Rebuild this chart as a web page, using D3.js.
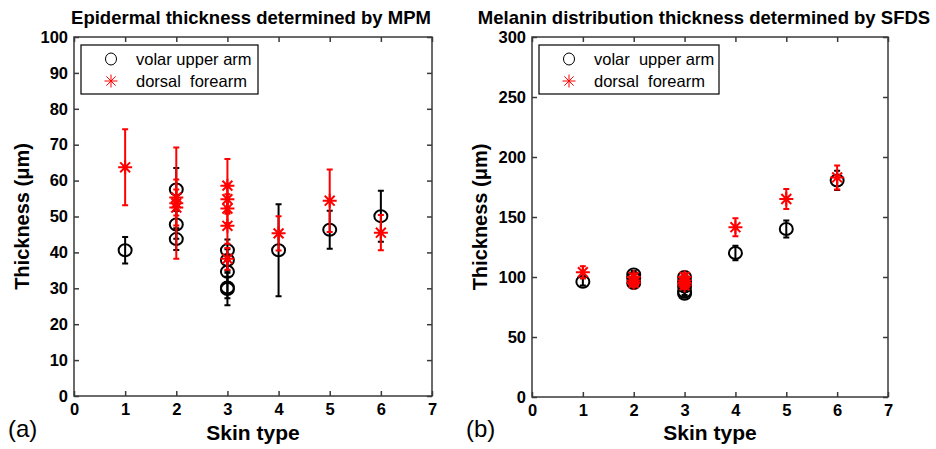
<!DOCTYPE html>
<html>
<head>
<meta charset="utf-8">
<script src="https://cdn.jsdelivr.net/npm/d3@7"></script>
<style>
  body { margin: 0; background: #fff; }
  text { font-family: "Liberation Sans", Arial, sans-serif; }
</style>
</head>
<body>
<div class="chart"></div>
<script>
// panel (a): epidermal thickness by MPM
const mpmVolarX = [1, 2, 2, 2, 3, 3, 3, 3, 3, 4, 5, 6];
const mpmVolarY = [40.6, 57.5, 47.8, 43.7, 40.6, 37.9, 34.6, 29.8, 30.2, 40.6, 46.3, 50.1];
const mpmVolarErr = [3.7, 6, 4, 3, 3, 3, 3, 4.5, 3, 12.8, 5.3, 7.1];
const mpmDorsalX = [1, 2, 2, 2, 3, 3, 3, 3, 3, 4, 5, 6];
const mpmDorsalY = [63.7, 55.3, 53.7, 52.5, 58.6, 54.8, 52.2, 47.4, 38.2, 45.3, 54.4, 45.5];
const mpmDorsalErr = [10.6, 5, 15.5, 5, 7.4, 4, 4, 5, 3, 4.8, 8.7, 4.9];

// panel (b): melanin distribution thickness by SFDS
const sfdsVolarX = [1, 2, 2, 2, 3, 3, 3, 3, 3, 4, 5, 6];
const sfdsVolarY = [96, 102, 99, 95, 100, 96, 92, 88, 86, 120, 140, 180.5];
const sfdsVolarErr = [3, 3, 3, 3, 3, 3, 3, 3, 3, 6, 7, 8];
const sfdsDorsalX = [1, 2, 2, 2, 3, 3, 3, 3, 4, 5, 6];
const sfdsDorsalY = [104, 100, 97, 95, 100, 97, 95, 93, 141.5, 165, 183];
const sfdsDorsalErr = [5, 3, 3, 3, 3, 3, 3, 3, 7.5, 8.3, 10];

const xTicks = [0, 1, 2, 3, 4, 5, 6, 7];
const mpmYTicks = d3.range(0, 101, 10);
const sfdsYTicks = d3.range(0, 301, 50);
const seriesNames = ['volar upper arm', 'dorsal  forearm'];
const seriesNamesB = ['volar  upper arm', 'dorsal  forearm'];

const W = 936, H = 449;
const svg = d3.select('.chart').append('svg')
  .attr('width', W).attr('height', H);

const zip = (xs, ys, es) => xs.map((x, i) => ({x: x, y: ys[i], e: es[i]}));

function starPath(r) {
  let p = '';
  for (let k = 0; k < 4; k++) {
    const a = k * Math.PI / 4;
    const dx = r * Math.cos(a), dy = r * Math.sin(a);
    p += `M${-dx},${-dy}L${dx},${dy}`;
  }
  return p;
}

function drawPanel(opt) {
  const g = svg.append('g');
  const x = d3.scaleLinear().domain([0, 7]).range([opt.left, opt.right]);
  const y = d3.scaleLinear().domain([0, opt.yMax]).range([opt.bottom, opt.top]);
  const axisColor = '#3a3a3a';

  // ticks inward on all sides (matlab box style)
  g.append('g').attr('transform', `translate(0,${opt.bottom})`)
    .call(d3.axisBottom(x).tickValues(xTicks).tickFormat(d3.format('d'))
      .tickSizeInner(-5).tickSizeOuter(0).tickPadding(7))
    .call(s => s.select('.domain').remove());
  g.append('g').attr('transform', `translate(0,${opt.top})`)
    .call(d3.axisTop(x).tickValues(xTicks).tickSizeInner(-5).tickSizeOuter(0).tickFormat(''))
    .call(s => s.select('.domain').remove());
  g.append('g').attr('transform', `translate(${opt.left},0)`)
    .call(d3.axisLeft(y).tickValues(opt.yTicks).tickFormat(d3.format('d'))
      .tickSizeInner(-5).tickSizeOuter(0).tickPadding(6))
    .call(s => s.select('.domain').remove());
  g.append('g').attr('transform', `translate(${opt.right},0)`)
    .call(d3.axisRight(y).tickValues(opt.yTicks).tickSizeInner(-5).tickSizeOuter(0).tickFormat(''))
    .call(s => s.select('.domain').remove());
  g.selectAll('.tick line').attr('stroke', axisColor).attr('stroke-width', 1.5);
  g.selectAll('.tick text')
    .attr('font-family', '"Liberation Sans", Arial, sans-serif')
    .attr('font-size', 16.5).attr('font-weight', 'bold').attr('fill', '#000');

  g.append('rect')
    .attr('x', opt.left).attr('y', opt.top)
    .attr('width', opt.right - opt.left).attr('height', opt.bottom - opt.top)
    .attr('fill', 'none').attr('stroke', axisColor).attr('stroke-width', 1.5);

  // error bars + markers
  function series(data, color, marker) {
    const s = g.append('g');
    s.selectAll('.eb').data(data).enter().append('path')
      .attr('d', d => {
        const cx = x(d.x), y0 = y(d.y - d.e), y1 = y(d.y + d.e);
        return `M${cx},${y0}L${cx},${y1}M${cx - 3},${y0}L${cx + 3},${y0}M${cx - 3},${y1}L${cx + 3},${y1}`;
      })
      .attr('stroke', color).attr('stroke-width', 2).attr('fill', 'none');
    if (marker === 'circle') {
      s.selectAll('.mk').data(data).enter().append('ellipse')
        .attr('cx', d => x(d.x)).attr('cy', d => y(d.y))
        .attr('rx', 6.5).attr('ry', 6)
        .attr('fill', 'none').attr('stroke', color).attr('stroke-width', 2);
    } else {
      s.selectAll('.mk').data(data).enter().append('path')
        .attr('transform', d => `translate(${x(d.x)},${y(d.y)})`)
        .attr('d', starPath(7))
        .attr('stroke', color).attr('stroke-width', 2).attr('fill', 'none');
    }
  }
  series(opt.volar, '#000', 'circle');
  series(opt.dorsal, '#ff0000', 'star');

  // legend
  const lg = g.append('g');
  lg.append('rect')
    .attr('x', opt.left + opt.legX).attr('y', opt.top + 8)
    .attr('width', opt.legW).attr('height', 49)
    .attr('fill', '#fff').attr('stroke', '#000').attr('stroke-width', 1.2);
  lg.append('ellipse')
    .attr('cx', opt.left + opt.legX + 30).attr('cy', opt.top + 22)
    .attr('rx', 5.5).attr('ry', 6)
    .attr('fill', 'none').attr('stroke', '#000').attr('stroke-width', 1);
  lg.append('path')
    .attr('transform', `translate(${opt.left + opt.legX + 30},${opt.top + 44})`)
    .attr('d', starPath(6.5))
    .attr('stroke', '#ff0000').attr('stroke-width', 1);
  opt.names.forEach((n, i) => {
    lg.append('text')
      .attr('x', opt.left + opt.legX + 55).attr('y', opt.top + 28 + i * 22)
      .attr('font-size', 16.5).attr('xml:space', 'preserve').style('white-space', 'pre')
      .text(n);
  });

  // titles and labels
  const cx = (opt.left + opt.right) / 2;
  g.append('text').attr('x', opt.titleX).attr('y', 24)
    .attr('text-anchor', 'middle').attr('font-size', 18.5).attr('font-weight', 'bold')
    .text(opt.title);
  g.append('text').attr('x', cx).attr('y', 440)
    .attr('text-anchor', 'middle').attr('font-size', 21).attr('font-weight', 'bold')
    .text('Skin type');
  g.append('text')
    .attr('transform', `translate(${opt.left - 45},${(opt.top + opt.bottom) / 2}) rotate(-90)`)
    .attr('text-anchor', 'middle').attr('font-size', 20).attr('font-weight', 'bold')
    .text('Thickness (μm)');
  g.append('text').attr('x', opt.left - 66).attr('y', 437)
    .attr('font-size', 24).text(opt.tag);
}

drawPanel({
  left: 74, right: 432, top: 37, bottom: 396, yMax: 100, yTicks: mpmYTicks,
  volar: zip(mpmVolarX, mpmVolarY, mpmVolarErr),
  dorsal: zip(mpmDorsalX, mpmDorsalY, mpmDorsalErr),
  title: 'Epidermal thickness determined by MPM', titleX: 251,
  names: seriesNames, legX: 7, legW: 177, tag: '(a)'
});

drawPanel({
  left: 532, right: 888, top: 37, bottom: 397, yMax: 300, yTicks: sfdsYTicks,
  volar: zip(sfdsVolarX, sfdsVolarY, sfdsVolarErr),
  dorsal: zip(sfdsDorsalX, sfdsDorsalY, sfdsDorsalErr),
  title: 'Melanin distribution thickness determined by SFDS', titleX: 704,
  names: seriesNamesB, legX: 7, legW: 180, tag: '(b)'
});
</script>
</body>
</html>
